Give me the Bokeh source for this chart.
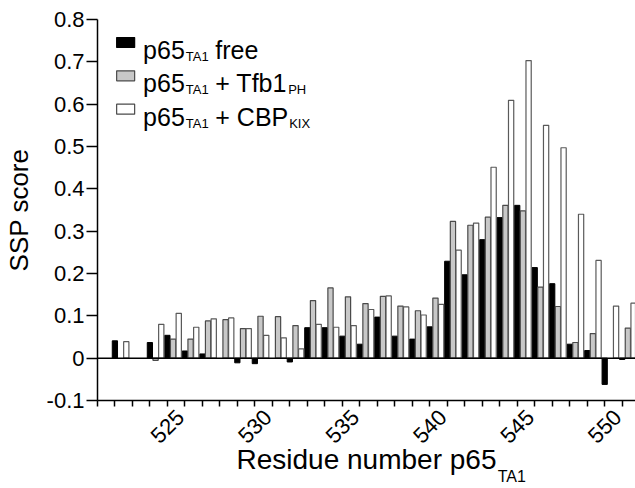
import math
from bokeh.plotting import figure
from bokeh.models import (FixedTicker, CustomJSTickFormatter, Label, Span,
                          Range1d, LinearAxis)
from bokeh.embed import file_html
from bokeh.resources import INLINE

nan = float("nan")

# ---- data -------------------------------------------------------------
residues = list(range(521, 552))
ssp_free = [nan, 0.041, nan, 0.037, 0.054, 0.017, 0.010, nan, -0.011, -0.013,
            nan, -0.009, 0.072, 0.072, 0.052, 0.033, 0.097, 0.052, 0.045, 0.074,
            0.229, 0.197, 0.280, 0.332, 0.361, 0.214, 0.176, 0.033, 0.018, -0.062,
            -0.003]
ssp_tfb1 = [nan, nan, nan, -0.005, 0.045, 0.045, 0.088, 0.091, 0.070, 0.099,
            0.098, 0.077, 0.136, 0.166, 0.145, 0.129, 0.146, 0.123, 0.112, 0.142,
            0.323, 0.314, 0.333, 0.361, 0.348, 0.168, 0.122, 0.037, 0.058, nan,
            0.071]
ssp_cbp = [nan, 0.039, nan, 0.080, 0.106, 0.073, 0.093, 0.095, 0.070, 0.054,
           0.048, 0.022, 0.080, 0.073, 0.077, 0.115, 0.147, 0.121, 0.102, 0.127,
           0.255, 0.319, 0.451, 0.609, 0.703, 0.550, 0.497, 0.340, 0.231, 0.123,
           0.130]
x_tick_labels = [525, 530, 535, 540, 545, 550]
y_ticks = [-0.1, 0.0, 0.1, 0.2, 0.3, 0.4, 0.5, 0.6, 0.7, 0.8]

# ---- layout -----------------------------------------------------------
FONT = "Liberation Sans"
W, H = 635, 488
BL, BT, BB = 96, 19, 88
frame_w = W - BL
frame_h = H - BT - BB
x0 = 520.68
px_per_res = 17.525
x1 = x0 + frame_w / px_per_res
y0, y1 = -0.1, 0.8

p = figure(width=W, height=H, output_backend="svg", toolbar_location=None,
           x_range=Range1d(x0, x1), y_range=Range1d(y0, y1),
           min_border_left=BL, min_border_right=0, min_border_top=BT,
           min_border_bottom=BB)
p.outline_line_color = None
p.grid.visible = False
p.background_fill_color = "white"

# canvas pixel -> data coordinates (legend placement)
def dx(px):
    return x0 + (px - BL) / px_per_res

def dy(py):
    return y1 - (py - BT) * (y1 - y0) / frame_h

off = 0.325
bw = 0.30
xb = [r - off for r in residues]
xg = [float(r) for r in residues]
xw = [r + off for r in residues]

p.vbar(x=xb, top=ssp_free, bottom=0, width=bw, fill_color="black",
       line_color="black", line_width=1)
p.vbar(x=xg, top=ssp_tfb1, bottom=0, width=bw, fill_color="#c8c8c8",
       line_color="#4a4a4a", line_width=1.2)
p.vbar(x=xw, top=ssp_cbp, bottom=0, width=bw, fill_color="white",
       line_color="#5a5a5a", line_width=1.2)

p.add_layout(Span(location=0, dimension="width", line_color="black",
                  line_width=1.5))

# ---- axes -------------------------------------------------------------
lab_shift = 0.42
xt = FixedTicker(ticks=[t + lab_shift for t in x_tick_labels],
                 minor_ticks=[r - 0.32 for r in residues + [552]])
p.xaxis.ticker = xt
p.xaxis.formatter = CustomJSTickFormatter(
    code="return Math.round(tick - %f).toString();" % lab_shift)
p.xaxis.major_label_orientation = math.pi / 4
p.xaxis.major_tick_out = 0
p.xaxis.major_tick_in = 0
p.xaxis.minor_tick_out = 6
p.xaxis.minor_tick_in = 0
p.xaxis.major_label_standoff = 7
p.xaxis.axis_label = "Residue number p65"
p.xaxis.axis_label_standoff = -9
p.xaxis.axis_label_text_font_size = "28px"

p.yaxis.ticker = FixedTicker(ticks=y_ticks, minor_ticks=[])
p.yaxis.formatter = CustomJSTickFormatter(
    code="const s = tick.toFixed(1); return (s === '0.0' || s === '-0.0') ? '0' : s;")
p.yaxis.major_tick_out = 11
p.yaxis.major_tick_in = 0
p.yaxis.minor_tick_out = 0
p.yaxis.minor_tick_in = 0
p.yaxis.major_label_standoff = 2
p.yaxis.axis_label = "SSP score"
p.yaxis.axis_label_standoff = 10
p.yaxis.axis_label_text_font_size = "26px"

for ax in (p.xaxis, p.yaxis):
    ax.axis_line_width = 1.5
    ax.axis_line_color = "black"
    ax.major_tick_line_width = 1.5
    ax.minor_tick_line_width = 1.5
    ax.major_tick_line_color = "black"
    ax.minor_tick_line_color = "black"
    ax.major_label_text_font = FONT
    ax.major_label_text_font_size = "22px"
    ax.major_label_text_color = "black"
    ax.axis_label_text_font = FONT
    ax.axis_label_text_font_style = "normal"
    ax.axis_label_text_color = "black"

# subscript of the x-axis title: a second, line-less axis with one label
sub_axis = LinearAxis(ticker=FixedTicker(ticks=[dx(511)], minor_ticks=[]),
                      formatter=CustomJSTickFormatter(code="return 'TA1';"),
                      axis_line_color=None, major_tick_line_color=None,
                      minor_tick_line_color=None, major_tick_out=0,
                      major_tick_in=0, minor_tick_out=0, minor_tick_in=0,
                      major_label_standoff=-11,
                      major_label_text_font=FONT,
                      major_label_text_font_size="16px",
                      major_label_text_color="black")
p.add_layout(sub_axis, "below")

# ---- legend -----------------------------------------------------------
leg_fill = ["black", "#c8c8c8", "white"]
leg_line = ["black", "#4a4a4a", "#4a4a4a"]
leg_cy = [42, 75.3, 108.7]
leg_rest = ["free", "+ Tfb1", "+ CBP"]
leg_sub2 = ["", "PH", "KIX"]
leg_sub2_x = [0, 287, 288]

p.rect(x=[dx(124.2)] * 3, y=[dy(c) for c in leg_cy], width=18, height=10,
       width_units="screen", height_units="screen", fill_color=leg_fill,
       line_color=leg_line, line_width=1.2)

for i in range(3):
    base = leg_cy[i] + 7.3
    p.add_layout(Label(x=dx(141.7), y=dy(base), text="p65", text_align="left",
                       text_baseline="alphabetic", text_font=FONT,
                       text_font_size="25px", text_color="black"))
    p.add_layout(Label(x=dx(184.5), y=dy(base + 6.7), text="TA1",
                       text_align="left", text_baseline="alphabetic",
                       text_font=FONT, text_font_size="13px", text_color="black"))
    p.add_layout(Label(x=dx(214), y=dy(base), text=leg_rest[i],
                       text_align="left", text_baseline="alphabetic",
                       text_font=FONT, text_font_size="25px", text_color="black"))
    if leg_sub2[i]:
        p.add_layout(Label(x=dx(leg_sub2_x[i]), y=dy(base + 6.7),
                           text=leg_sub2[i], text_align="left",
                           text_baseline="alphabetic", text_font=FONT,
                           text_font_size="13px", text_color="black"))

open("out.html", "w").write(file_html(p, INLINE))
